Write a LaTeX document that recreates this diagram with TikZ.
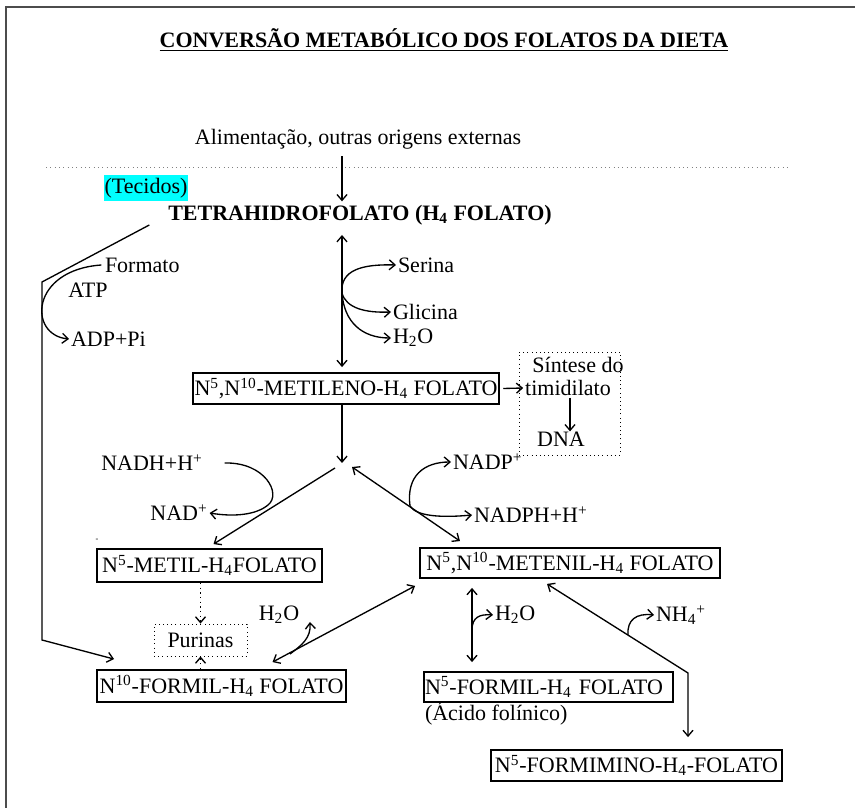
\documentclass[tikz,border=0pt]{standalone}
\usepackage{fontspec}
\setmainfont{Liberation Serif}
\usetikzlibrary{arrows.meta}
\definecolor{markCyan}{RGB}{0,255,255}

\begin{document}
\begin{tikzpicture}[
    x=0.6pt, y=-0.6pt,
    font=\fontsize{13.2}{15.5}\selectfont,
    % Folate boxes
    box/.style={
        draw,
        line width=1.1pt,
        inner sep=0pt,
        align=center
    },
    % Dotted side boxes
    dotbox/.style={
        draw,
        dotted,
        line width=0.5pt,
        inner sep=0pt
    },
    % Plain labels
    lbl/.style={inner sep=1pt},
    % Connectors
    arr/.style={line width=0.8pt, -{Straight Barb[length=3.5pt,width=6pt]}},
    darr/.style={line width=0.8pt, {Straight Barb[length=3.5pt,width=6pt]}-{Straight Barb[length=3.5pt,width=6pt]}},
    line/.style={line width=0.8pt}
]
\useasboundingbox (0,0) rectangle (855,808);

% --- PAGE FRAME ---
\draw[line width=1.3pt, black!70] (6,808) -- (6,7) -- (855,7);

% --- TITLE AND SOURCE ---
\node[lbl] (Title) at (444,40) {\underline{\textbf{CONVERSÃO METABÓLICO DOS FOLATOS DA DIETA}}};
\node[lbl] (Diet) at (358,139) {Alimentação, outras origens externas};
\draw[gray, dotted, line width=0.6pt] (46,168) -- (788,168);
\node[fill=markCyan, inner sep=0pt, minimum width=84*0.6pt, minimum height=26*0.6pt] (Tissue) at (146,188) {(Tecidos)};

% axis of the central pathway
\coordinate (Axis) at (342,466);
\coordinate (DnaAxis) at (570,0);

% --- MAIN NODES ---
\node[lbl] (THF) at (360,215) {\textbf{TETRAHIDROFOLATO (H\textsubscript{4} FOLATO)}};
\node[box, minimum width=306*0.6pt, minimum height=31*0.6pt] (Methylene) at (346,388.5) {N\textsuperscript{5},N\textsuperscript{10}-METILENO-H\textsubscript{4} FOLATO};
\node[box, minimum width=225*0.6pt, minimum height=33*0.6pt] (Methyl) at (209.5,565.5) {N\textsuperscript{5}-METIL-H\textsubscript{4}FOLATO};
\node[box, minimum width=300*0.6pt, minimum height=30*0.6pt] (Methenyl) at (570,563) {N\textsuperscript{5},N\textsuperscript{10}-METENIL-H\textsubscript{4} FOLATO};
\node[box, minimum width=249*0.6pt, minimum height=32*0.6pt] (Formyl10) at (221.5,686) {N\textsuperscript{10}-FORMIL-H\textsubscript{4} FOLATO};
\node[box, minimum width=249*0.6pt, minimum height=30*0.6pt, text width=247*0.6pt, align=left] (Formyl5) at (548.5,687) {N\textsuperscript{5}-FORMIL-H\textsubscript{4} FOLATO};
\node[lbl, anchor=west] (Folinic) at (423,713) {(Ácido folínico)};
\node[box, minimum width=291*0.6pt, minimum height=31*0.6pt] (Formimino) at (636.5,765.5) {N\textsuperscript{5}-FORMIMINO-H\textsubscript{4}-FOLATO};
\node[inner sep=0pt, font=\tiny] (Dash) at (97,540) {-};

% --- SIDE BOXES ---
\node[dotbox, minimum width=101*0.6pt, minimum height=103*0.6pt] (SynBox) at (569.5,403.5) {};
\node[lbl] (Synth) at (578,365) {Síntese do};
\node[lbl] (Thym) at (568,388) {timidilato};
\node[lbl] (DNA) at (561,439) {DNA};
\node[dotbox, minimum width=93*0.6pt, minimum height=32*0.6pt] (Purines) at (200.5,640) {Purinas};

% --- SIDE LABELS ---
\node[lbl, anchor=west] (Ser) at (396,265) {Serina};
\node[lbl, anchor=west] (Gly) at (391,312) {Glicina};
\node[lbl, anchor=west] (WaterA) at (391,338) {H\textsubscript{2}O};
\node[lbl, anchor=west] (Form) at (103,265) {Formato};
\node[lbl] (ATP) at (88,290) {ATP};
\node[lbl, anchor=west] (ADP) at (69,339) {ADP+Pi};
\node[lbl] (NADH) at (152,463) {NADH+H\textsuperscript{+}};
\node[lbl] (NAD) at (179,513) {NAD\textsuperscript{+}};
\node[lbl, anchor=west] (NADP) at (451,462) {NADP\textsuperscript{+}};
\node[lbl, anchor=west] (NADPH) at (472,515) {NADPH+H\textsuperscript{+}};
\node[lbl] (WaterB) at (279,615) {H\textsubscript{2}O};
\node[lbl, anchor=west] (WaterC) at (493,615) {H\textsubscript{2}O};
\node[lbl, anchor=west] (NH4) at (654,615) {NH\textsubscript{4}\textsuperscript{+}};

% --- CENTRAL PATHWAY ---
\draw[arr] (Diet.south -| Axis) ++(0,5) -- ([yshift=1pt]THF.north -| Axis);
\draw[darr, shorten <=8*0.6pt, shorten >=5*0.6pt] (THF.south -| Axis) -- (Methylene.north -| Axis);
\draw[arr, shorten >=3*0.6pt] (Methylene.south -| Axis) -- (Axis);
\draw[arr] ([shift={(-7,2)}]Axis) -- ([shift={(4,-4)}]Methyl.north);
\draw[darr] ([shift={(10,1)}]Axis) -- ([shift={(-110,-6)}]Methenyl.north);

% serine / glycine exchange
\coordinate (SerFork) at (342,293);
\draw[arr] (SerFork) .. controls (340,270) and (362,264) .. (Ser.west);
\draw[arr] (SerFork) .. controls (346,308) and (365,313) .. (Gly.west);
\draw[arr] (SerFork) .. controls (344,322) and (362,338) .. (WaterA.west);

% thymidylate branch
\draw[arr] ([xshift=2pt]Methylene.east) -- (Thym.west);
\draw[arr] (Thym.south -| DnaAxis) -- ([yshift=-1pt]DNA.north -| DnaAxis);

% NADH and NADP couples
\draw[arr] ([xshift=20*0.6pt]NADH.east) .. controls (265,462) and (282,494) .. (268,505)
    .. controls (256,515) and (234,517) .. (NAD.east);
\coordinate (NadpFork) at (410,506);
\draw[arr] (NadpFork) .. controls (406,476) and (424,462) .. (NADP.west);
\draw[arr] (NadpFork) .. controls (416,516) and (440,518) .. (NADPH.west);

% --- FORMATE ROUTE ---
\coordinate (BendTop) at (42,282);
\coordinate (BendLow) at (42,640);
\draw[arr] ([shift={(-17,10)}]THF.west) -- (BendTop) -- (BendLow) -- ([shift={(18,-10)}]Formyl10.north west);
\draw[arr] ([xshift=-1pt]Form.west) .. controls (30,270) and (28,335) .. (ADP.west);

% --- PURINES ---
\draw[arr, dotted] (Methyl.south -| Purines) -- (Purines.north);
\draw[arr, dotted] (Formyl10.north -| Purines) -- (Purines.south);

% --- LOWER EXCHANGES ---
\draw[darr] ([shift={(51,-7)}]Formyl10.north) -- ([shift={(-4,7)}]Methenyl.south west);
\draw[arr] (290,654) .. controls (302,645) and (311,638) .. (310,622);
\draw[darr, shorten <=9*0.6pt, shorten >=9*0.6pt] (Methenyl.south -| 472,0) -- (Formyl5.north -| 472,0);
\draw[arr] (472,630) .. controls (472,617) and (480,614) .. (WaterC.west);
\coordinate (FormiCorner) at (688,673);
\draw[darr, shorten >=12*0.6pt] ([shift={(-23,5)}]Methenyl.south) -- (FormiCorner) -- (Formimino.north -| FormiCorner);
\draw[arr] (628,635) .. controls (627,620) and (636,613) .. (NH4.west);

\end{tikzpicture}
\end{document}
